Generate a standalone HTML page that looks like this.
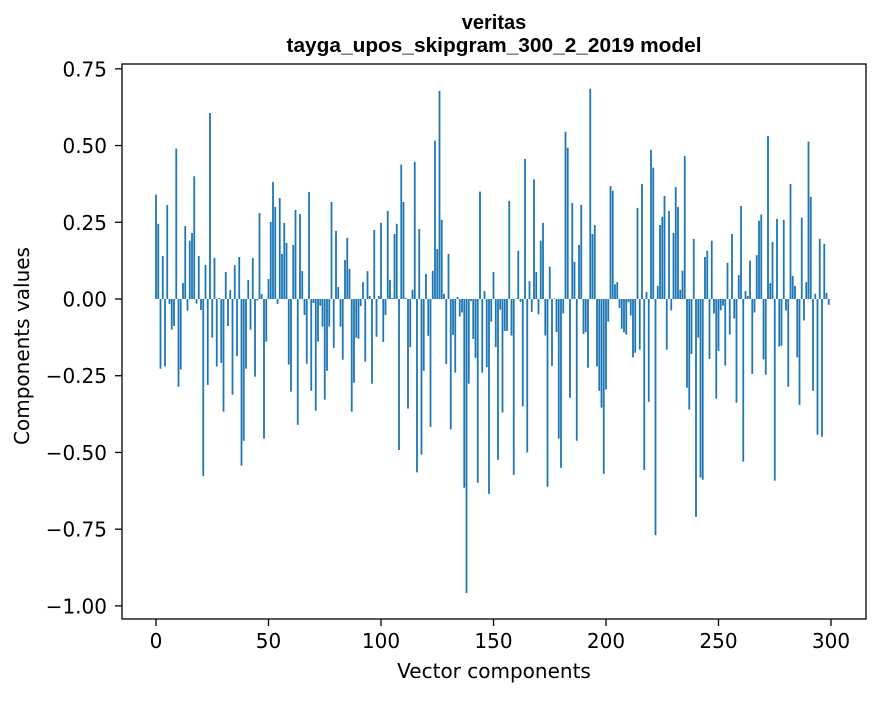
<!DOCTYPE html>
<html><head><meta charset="utf-8"><style>
body{margin:0;background:#fff}
svg text{font-family:"DejaVu Sans","Liberation Sans",sans-serif;fill:#000}
</style></head><body>
<svg id="chart" width="880" height="696" xmlns="http://www.w3.org/2000/svg">
<rect width="880" height="696" fill="#fff"/>
<text x="494" y="29" text-anchor="middle" font-size="20" font-weight="bold" style="font-family:'Liberation Sans',sans-serif">veritas</text>
<text x="494" y="52" text-anchor="middle" font-size="20" font-weight="bold" style="font-family:'Liberation Sans',sans-serif" textLength="415" lengthAdjust="spacingAndGlyphs">tayga_upos_skipgram_300_2_2019 model</text>
<g id="bars"></g>
<g id="yticks"></g>
<g id="xticks"></g>
<rect x="122" y="64" width="744" height="555" fill="none" stroke="#000" stroke-width="1.3"/>
<text x="494" y="678" text-anchor="middle" font-size="20">Vector components</text>
<text transform="translate(29,346) rotate(-90)" text-anchor="middle" font-size="20">Components values</text>
</svg>
<script>
const values = [0.34,0.245,-0.227,0.14,-0.22,0.306,-0.016,-0.10,-0.088,0.49,
-0.286,-0.23,0.052,0.238,-0.038,0.19,0.215,0.40,-0.015,0.14,
-0.036,-0.577,0.111,-0.28,0.606,-0.126,0.134,-0.22,0.003,-0.208,
-0.367,0.088,-0.088,0.029,-0.312,0.11,-0.186,0.137,-0.543,-0.462,
-0.227,0.062,-0.10,0.134,-0.253,-0.005,0.28,0.016,-0.455,-0.139,
0.065,0.251,0.381,0.30,-0.016,0.329,0.147,0.248,0.183,-0.214,
-0.302,0.176,0.29,-0.41,0.277,0.091,-0.052,-0.211,0.349,-0.299,
-0.013,-0.364,-0.139,-0.022,-0.09,-0.328,-0.234,-0.09,0.316,-0.159,
0.222,0.039,-0.09,-0.198,0.127,0.199,0.098,-0.367,-0.273,-0.126,
-0.129,-0.023,0.055,-0.204,0.091,0.01,-0.276,0.225,-0.123,0.01,
0.248,-0.14,-0.052,0.287,0.062,0.003,0.212,0.245,-0.492,0.438,
0.316,0.003,-0.357,-0.157,0.03,0.447,-0.565,0.228,-0.507,-0.234,
0.082,-0.12,-0.417,0.092,0.516,0.163,0.678,0.258,0.017,-0.212,
0.147,-0.425,-0.117,-0.24,0.007,-0.057,-0.044,-0.615,-0.958,-0.276,
-0.007,-0.13,-0.192,-0.599,0.35,-0.24,0.026,-0.222,-0.635,-0.074,
0.088,-0.157,-0.524,-0.035,-0.37,-0.104,-0.104,0.32,-0.119,-0.573,
0.002,0.157,-0.009,-0.35,0.456,-0.5,0.058,-0.042,0.39,0.088,
-0.05,0.19,0.248,-0.119,-0.612,0.105,-0.218,0.002,-0.108,-0.455,
-0.55,-0.047,0.545,0.493,-0.322,0.313,0.121,-0.462,0.176,0.307,
-0.114,-0.108,-0.224,0.685,0.212,0.241,-0.22,-0.299,-0.354,-0.57,
-0.295,-0.074,0.368,0.353,0.048,0.055,-0.029,-0.097,-0.109,-0.116,
-0.01,-0.054,-0.19,-0.175,0.297,-0.165,0.375,-0.557,0.023,-0.335,
0.486,0.428,-0.77,0.043,0.241,0.268,0.336,-0.165,0.287,-0.037,
0.215,0.365,0.3,0.03,0.092,0.466,-0.289,-0.36,-0.179,0.196,
-0.71,-0.126,-0.582,-0.589,0.137,0.157,-0.195,0.19,-0.047,-0.325,
-0.169,-0.037,-0.022,-0.217,0.118,-0.116,0.212,-0.064,-0.338,0.078,
0.303,-0.53,0.026,0.01,0.125,-0.244,-0.044,0.143,0.255,0.275,
-0.197,-0.247,0.531,0.052,0.186,-0.592,0.261,-0.155,-0.152,0.258,
-0.037,-0.286,0.375,0.075,0.043,-0.19,-0.345,0.265,-0.07,0.055,
0.513,0.333,-0.299,0.017,-0.442,0.196,-0.449,0.18,0.02,-0.019];
const yTicks = [0.75,0.5,0.25,0,-0.25,-0.5,-0.75,-1.0];
const yTickLabels = ["0.75","0.50","0.25","0.00","\u22120.25","\u22120.50","\u22120.75","\u22121.00"];
const xTicks = [0,50,100,150,200,250,300];
const NS = "http://www.w3.org/2000/svg";
const xs = i => 156 + 2.25*i;
const ys = v => 299 - v*306.9;
const bars = document.getElementById('bars');
values.forEach((v,i)=>{
  const r = document.createElementNS(NS,'rect');
  
  
  const y0 = ys(0), y1 = ys(v);
  r.setAttribute('x', xs(i)-0.9);
  r.setAttribute('width', 1.8);
  r.setAttribute('y', Math.min(y0,y1));
  r.setAttribute('height', Math.max(Math.abs(y1-y0),0.3));
  r.setAttribute('fill', '#1f77b4');
  bars.appendChild(r);
});
const yg = document.getElementById('yticks');
yTicks.forEach((t,k)=>{
  const y = ys(t);
  const l = document.createElementNS(NS,'line');
  
  
  l.setAttribute('x1',115); l.setAttribute('x2',122);
  l.setAttribute('y1',y); l.setAttribute('y2',y);
  l.setAttribute('stroke','#000'); l.setAttribute('stroke-width','1.3');
  yg.appendChild(l);
  const tx = document.createElementNS(NS,'text');
  
  
  tx.setAttribute('x',107); tx.setAttribute('y',y+7.5);
  tx.setAttribute('text-anchor','end'); tx.setAttribute('font-size','20');
  tx.textContent = yTickLabels[k];
  yg.appendChild(tx);
});
const xg = document.getElementById('xticks');
xTicks.forEach(t=>{
  const x = xs(t);
  const l = document.createElementNS(NS,'line');
  
  
  l.setAttribute('x1',x); l.setAttribute('x2',x);
  l.setAttribute('y1',619); l.setAttribute('y2',626);
  l.setAttribute('stroke','#000'); l.setAttribute('stroke-width','1.3');
  xg.appendChild(l);
  const tx = document.createElementNS(NS,'text');
  
  
  tx.setAttribute('x',x); tx.setAttribute('y',648);
  tx.setAttribute('text-anchor','middle'); tx.setAttribute('font-size','20');
  tx.textContent = String(t);
  xg.appendChild(tx);
});
</script>
</body></html>
